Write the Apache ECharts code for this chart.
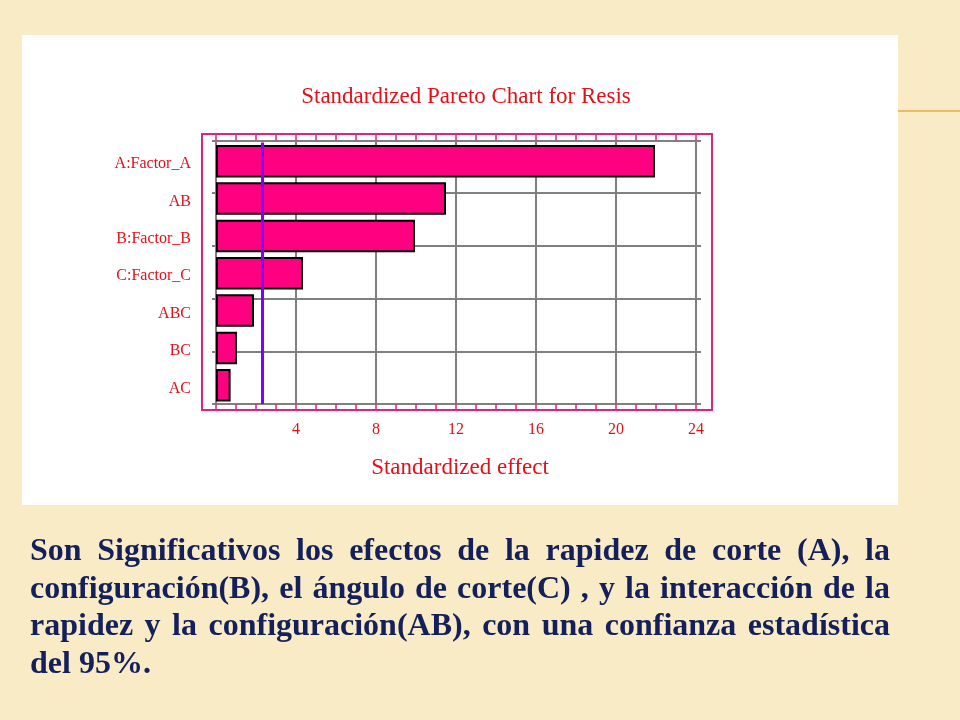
<!DOCTYPE html>
<html>
<head>
<meta charset="utf-8">
<script src="https://cdn.jsdelivr.net/npm/echarts@6/dist/echarts.min.js"></script>
<style>
  html, body { margin: 0; padding: 0; width: 960px; height: 720px; overflow: hidden; background: #F8EBC6; }
  #chart { position: absolute; left: 0; top: 0; width: 960px; height: 720px; }
  #note {
    position: absolute; left: 30px; top: 531px; width: 860px;
    font-family: 'Liberation Serif', 'Times New Roman', serif;
    font-weight: bold; font-size: 32px; line-height: 37.5px;
    text-align: justify; color: #13205C;
  }
</style>
</head>
<body>
<div id="chart"></div>
<div id="note">Son Significativos los efectos de la rapidez de corte (A), la configuración(B), el ángulo de corte(C) , y la interacción de la rapidez y la configuración(AB), con una confianza estadística del 95%.</div>
<script>
// ---- data ----
const categories = ['A:Factor_A', 'AB', 'B:Factor_B', 'C:Factor_C', 'ABC', 'BC', 'AC'];
const effects = [21.95, 11.5, 9.95, 4.35, 1.9, 1.05, 0.73];
const criticalValue = 2.31;
const xTicks = [0, 4, 8, 12, 16, 20, 24];

const serif = "'Liberation Serif', 'Times New Roman', serif";
const red = '#E21018';
const frame = '#DC2482';
const gray = '#808080';
const xMin = xTicks[0], xMax = xTicks[xTicks.length - 1];

const chart = echarts.init(document.getElementById('chart'));
chart.setOption({
  backgroundColor: '#F8EBC6',
  animation: false,
  title: {
    text: 'Standardized Pareto Chart for Resis',
    left: 461, top: 80, textAlign: 'center',
    textStyle: { color: red, fontFamily: serif, fontSize: 23, fontWeight: 'normal' }
  },
  graphic: [
    { type: 'rect', z: -10, shape: { x: 22, y: 35, width: 876, height: 470 }, style: { fill: '#FFFFFF' } },
    { type: 'line', z: -10, shape: { x1: 898, y1: 111, x2: 960, y2: 111 }, style: { stroke: '#E6AE45', lineWidth: 1.5 } },
    { type: 'rect', z: 1, shape: { x: 202, y: 134, width: 510, height: 276 }, style: { fill: null, stroke: frame, lineWidth: 2 } }
  ],
  grid: [
    { left: 216, right: 264, top: 140.5, height: 263.5, containLabel: false },
    { left: 216, right: 264, top: 142.5, height: 261.5, containLabel: false }
  ],
  xAxis: [
    {
      type: 'value', gridIndex: 0, position: 'bottom',
      min: xMin, max: xMax, interval: 4,
      axisLine: { show: false, onZero: false },
      axisTick: { show: true, length: 6, lineStyle: { color: frame, width: 1.5 } },
      minorTick: { show: true, splitNumber: 4, length: 6, lineStyle: { color: frame, width: 1.5 } },
      splitLine: { show: true, lineStyle: { color: gray, width: 2 } },
      axisLabel: {
        color: red, fontFamily: serif, fontSize: 16, margin: 18,
        formatter: v => (v === 0 ? '' : String(v))
      },
      name: 'Standardized effect', nameLocation: 'middle', nameGap: 52,
      nameTextStyle: { color: red, fontFamily: serif, fontSize: 23, padding: [0, 0, 0, 8] }
    },
    {
      type: 'value', gridIndex: 0, position: 'top',
      min: xMin, max: xMax, interval: 4,
      axisLine: { show: false, onZero: false },
      axisTick: { show: true, length: 6, lineStyle: { color: frame, width: 1.5 } },
      minorTick: { show: true, splitNumber: 4, length: 6, lineStyle: { color: frame, width: 1.5 } },
      splitLine: { show: false },
      axisLabel: { show: false }
    },
    {
      type: 'value', gridIndex: 1, position: 'bottom',
      min: xMin, max: xMax, interval: 4, show: false,
      axisLine: { onZero: false }
    }
  ],
  yAxis: [
    {
      type: 'value', gridIndex: 0, position: 'left', min: 0, max: 5, interval: 1,
      axisLine: { show: false, onZero: false }, axisLabel: { show: false },
      axisTick: { show: true, length: 4, lineStyle: { color: gray, width: 2 } },
      splitLine: { show: true, lineStyle: { color: gray, width: 2 } }
    },
    {
      type: 'value', gridIndex: 0, position: 'right', min: 0, max: 5, interval: 1,
      axisLine: { show: false, onZero: false }, axisLabel: { show: false },
      axisTick: { show: true, length: 5, lineStyle: { color: gray, width: 2 } },
      splitLine: { show: false }
    },
    {
      type: 'category', gridIndex: 1, data: categories, inverse: true,
      axisLine: { show: false, onZero: false }, axisTick: { show: false }, splitLine: { show: false },
      axisLabel: {
        color: red, fontFamily: serif, fontSize: 16, margin: 25,
        verticalAlign: 'top', lineHeight: 6
      }
    }
  ],
  series: [
    {
      type: 'bar', xAxisIndex: 2, yAxisIndex: 2,
      data: effects, barCategoryGap: '13%', z: 3,
      itemStyle: { color: '#FF0080', borderColor: '#000000', borderWidth: 2 },
      markLine: {
        silent: true, symbol: ['none', 'none'], label: { show: false },
        lineStyle: { color: '#7F00FF', width: 3, type: 'solid' },
        data: [{ xAxis: criticalValue }]
      }
    }
  ]
});
</script>
</body>
</html>
